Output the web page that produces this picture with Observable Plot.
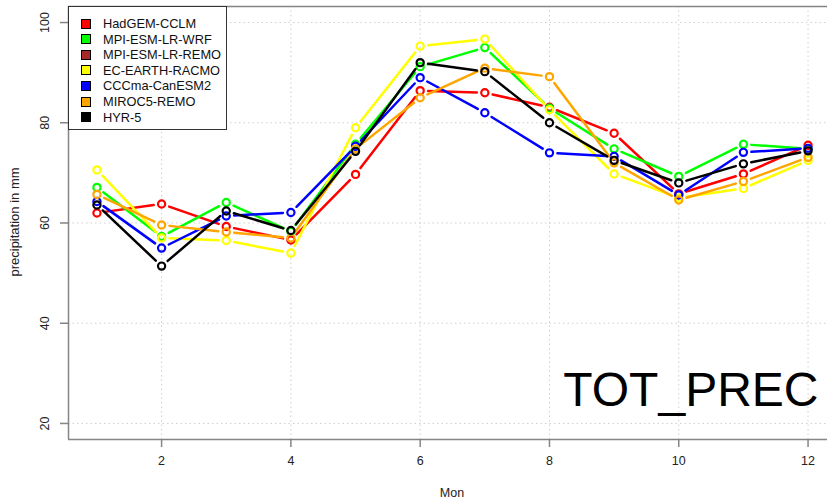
<!DOCTYPE html>
<html>
<head>
<meta charset="utf-8">
<script src="https://cdn.jsdelivr.net/npm/d3@7"></script>
<script src="https://cdn.jsdelivr.net/npm/@observablehq/plot@0.6"></script>
<style>
  html, body { margin: 0; padding: 0; background: #fff; }
  #wrap { position: relative; width: 827px; height: 502px; overflow: hidden; font-family: "Liberation Sans", Arial, Helvetica, sans-serif; }
  #legend { position: absolute; left: 68px; top: 6px; width: 159px; height: 124px; border: 1px solid #333; background: #fff; box-sizing: border-box; }
  .row { position: absolute; left: 0; height: 16px; display: flex; align-items: center; font-size: 12.8px; color: #111; }
  .sw { width: 8px; height: 8px; border: 1px solid #000; margin-left: 12px; margin-right: 12px; }
</style>
</head>
<body>
<div id="wrap"></div>
<script>
const months = [1, 2, 3, 4, 5, 6, 7, 8, 9, 10, 11, 12];
const seriesNames = ["HadGEM-CCLM", "MPI-ESM-LR-WRF", "MPI-ESM-LR-REMO", "EC-EARTH-RACMO", "CCCma-CanESM2", "MIROC5-REMO", "HYR-5"];
const seriesColors = ["#ff0000", "#00ff00", "#a52a2a", "#ffff00", "#0000ff", "#ffa500", "#000000"];
const hadgemCclm = [62.0, 63.8, 59.3, 56.6, 69.7, 86.4, 86.0, 83.1, 77.9, 65.8, 69.8, 75.5];
const mpiWrf = [67.1, 57.3, 64.1, 58.3, 75.7, 91.2, 95.0, 82.9, 74.8, 69.3, 75.7, 74.8];
const mpiRemo = []; // not visible in the chart
const ecEarthRacmo = [70.6, 57.0, 56.5, 54.0, 79.0, 95.3, 96.7, 82.6, 69.8, 65.0, 66.9, 72.5];
const cccmaCanesm2 = [64.3, 55.0, 61.4, 62.1, 75.3, 89.0, 82.0, 74.0, 73.3, 65.6, 74.1, 74.9];
const miroc5Remo = [65.7, 59.6, 58.2, 57.0, 74.8, 85.0, 90.9, 89.2, 72.0, 64.6, 68.3, 73.1];
const hyr5 = [63.6, 51.4, 62.4, 58.5, 74.3, 92.0, 90.2, 80.0, 72.5, 68.0, 71.8, 74.4];
const seriesValues = [hadgemCclm, mpiWrf, mpiRemo, ecEarthRacmo, cccmaCanesm2, miroc5Remo, hyr5];
const xTicks = [2, 4, 6, 8, 10, 12];
const yTicks = [20, 40, 60, 80, 100];
const xDomain = [0.56, 12.44];
const yDomain = [16.8, 103.2];

const font = '"Liberation Sans", Arial, Helvetica, sans-serif';
const gridStyle = {stroke: "#cfcfcf", strokeOpacity: 1, strokeDasharray: "1.5,3", strokeWidth: 1};
const frameColor = "#858585";

const marks = [
  Plot.gridX(xTicks, gridStyle),
  Plot.gridY(yTicks, gridStyle),
  Plot.ruleX([xDomain[0]], {stroke: frameColor, strokeWidth: 1.5}),
  Plot.ruleY([yDomain[0]], {stroke: frameColor, strokeWidth: 1.5}),
  Plot.ruleY([yDomain[1]], {stroke: frameColor, strokeWidth: 1.5}),
  Plot.axisX(xTicks, {tickSize: 8, tickPadding: 9, stroke: frameColor, strokeWidth: 1.5, fill: "#222", fontSize: 12.5, label: null, tickFormat: d => String(d)}),
  Plot.axisY(yTicks, {tickSize: 8, stroke: frameColor, strokeWidth: 1.5, tickFormat: () => "", label: null}),
  Plot.text(yTicks, {frameAnchor: "left", y: d => d, text: d => String(d), rotate: -90, dx: -24, fill: "#222", fontSize: 12.5, textAnchor: "middle"}),
  Plot.text(["TOT_PREC"], {frameAnchor: "bottom-right", text: d => d, fontSize: 48, textAnchor: "end", lineAnchor: "bottom", dx: -18, dy: -34, fill: "#000"})
];

seriesValues.forEach((vals, s) => {
  if (!vals.length) return;
  const pts = vals.map((v, i) => ({x: months[i], y: v}));
  const segs = pts.slice(1).map((p, i) => ({x1: pts[i].x, y1: pts[i].y, x2: p.x, y2: p.y}));
  marks.push(Plot.arrow(segs, {x1: "x1", y1: "y1", x2: "x2", y2: "y2", headLength: 0, inset: 8, stroke: seriesColors[s], strokeWidth: 2.5}));
  marks.push(Plot.dot(pts, {x: "x", y: "y", r: 3.6, stroke: seriesColors[s], strokeWidth: 2.2, fill: "none"}));
});

const chart = Plot.plot({
  width: 827,
  height: 502,
  marginLeft: 68,
  marginRight: -9,
  marginTop: 6,
  marginBottom: 63,
  style: {fontFamily: font, background: "#fff", overflow: "hidden"},
  x: {domain: xDomain, label: null, axis: null},
  y: {domain: yDomain, label: null, axis: null},
  marks
});

const wrap = document.getElementById("wrap");
wrap.appendChild(chart);

// Axis titles as real SVG text
const svg = d3.select(chart);
svg.append("text").attr("x", 452).attr("y", 497).attr("text-anchor", "middle")
  .attr("font-size", 12.5).attr("fill", "#222").attr("font-family", font).text("Mon");
svg.append("text").attr("transform", "translate(19,222) rotate(-90)").attr("text-anchor", "middle")
  .attr("font-size", 13).attr("fill", "#222").attr("font-family", font).text("precipitation in mm");

// Legend
const legend = document.createElement("div");
legend.id = "legend";
seriesNames.forEach((name, i) => {
  const row = document.createElement("div");
  row.className = "row";
  row.style.top = (8.5 + i * 15.6) + "px";
  const sw = document.createElement("div");
  sw.className = "sw";
  sw.style.background = seriesColors[i];
  row.appendChild(sw);
  const t = document.createElement("span");
  t.textContent = name;
  row.appendChild(t);
  legend.appendChild(row);
});
wrap.appendChild(legend);
</script>
</body>
</html>
